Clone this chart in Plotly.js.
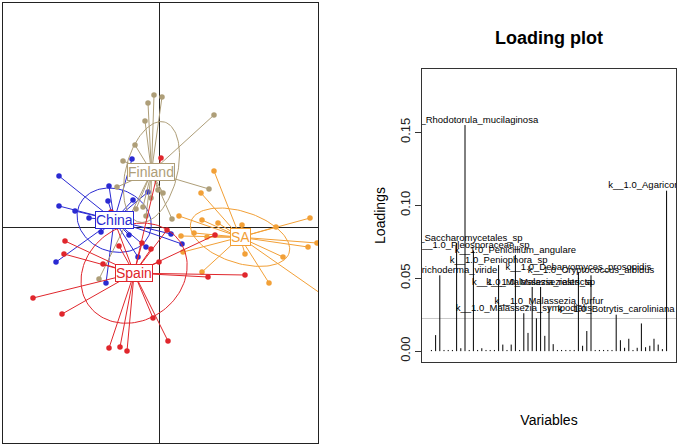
<!DOCTYPE html>
<html>
<head>
<meta charset="utf-8">
<script src="https://cdn.plot.ly/plotly-3.0.1.min.js"></script>
<style>
  html, body { margin: 0; padding: 0; background: #fff; }
  #chart { width: 680px; height: 446px; }
</style>
</head>
<body>
<div id="chart"></div>
<script>
// ---- class scores (PCA axes 1 and 2) ----
const groupNames = ["Finland", "China", "Spain", "SA"];
const groupColors = ["#ae9e78", "#2a2ad2", "#e0262c", "#f2a037"];

const finlandX = [-0.05, 0.03, -0.11, -0.14, 0.55, -0.24, -0.36, -0.42, 0.50, 0.04, -0.01, -0.08, -0.16, -0.23, 0.13, -0.60, -0.13];
const finlandY = [1.32, 1.30, 1.24, 1.06, 1.12, 0.82, 0.66, 0.40, 0.38, 0.34, 0.37, 0.29, 0.20, 0.18, 0.08, -0.52, 0.11];

const chinaX = [-1.00, -0.50, -0.51, -0.26, -0.27, -1.00, -0.84, -0.70, -0.58, -1.03, -0.53, -0.30, -0.21, -0.13, 0.12, 0.23, -0.11];
const chinaY = [0.51, 0.41, 0.26, 0.27, 0.68, 0.21, 0.16, 0.09, -0.05, -0.35, -0.56, -0.08, -0.30, -0.20, -0.07, -0.17, 0.35];

const spainX = [-0.94, -0.95, -0.56, -1.26, -0.97, -0.50, -0.39, -0.32, 0.09, -0.06, 0.00, 0.49, 0.86, 0.56, 0.08, -0.08, -0.17, -0.40, -0.48, 0.02];
const spainY = [-0.14, -0.27, -0.37, -0.71, -0.87, -1.21, -1.20, -1.24, -1.14, -0.91, -0.35, -0.50, -0.48, -0.08, -0.03, -0.22, -0.16, -0.19, 0.15, 0.69];

const saX = [0.55, 0.42, 0.20, 0.43, 0.59, 0.35, 0.22, 0.48, 0.83, 1.17, 1.51, 1.58, 1.49, 1.24, 0.86, 0.24, 0.43, 1.10, 1.71];
const saY = [0.56, 0.34, 0.11, 0.07, 0.04, -0.06, -0.09, -0.10, 0.02, 0.00, 0.09, -0.16, -0.20, -0.30, -0.27, -0.25, -0.45, -0.56, -0.73];

const groupXs = [finlandX, chinaX, spainX, saX];
const groupYs = [finlandY, chinaY, spainY, saY];

// ---- loadings ----
const loadings = [
  0.0008, 0.011, 0.052, 0.0008, 0.0008, 0.0008, 0.074, 0.002, 0.155, 0.0008,
  0.069, 0.0008, 0.002, 0.0008, 0.0008, 0.0008, 0.059, 0.0045, 0.0008, 0.0045,
  0.066, 0.0008, 0.026, 0.0125, 0.044, 0.0225, 0.044, 0.0105, 0.031, 0.0048,
  0.0008, 0.0008, 0.0008, 0.0008, 0.0008, 0.054, 0.0037, 0.0138, 0.052, 0.0008,
  0.0008, 0.0008, 0.0008, 0.0008, 0.025, 0.0075, 0.0023, 0.0085, 0.0008, 0.0023,
  0.019, 0.0027, 0.0037, 0.0085, 0.0045, 0.0014, 0.110
];
const labelIndex = [2, 6, 8, 10, 16, 20, 22, 24, 26, 28, 35, 38, 44, 56];
const labelNames = [
  "k__1.0_Trichoderma_viride",
  "k__1.0_Saccharomycetales_sp",
  "k__1.0_Rhodotorula_mucilaginosa",
  "k__1.0_Pleosporaceae_sp",
  "k__1.0_Peniophora_sp",
  "k__1.0_Penicillium_angulare",
  "k__1.0_Malassezia_sympodialis",
  "k__1.0_Malassezia_restricta",
  "k__1.0_Malasseziales_sp",
  "k__1.0_Malassezia_furfur",
  "k__1.0_Debaryomyces_prosopidis",
  "k__1.0_Cryptococcus_albidus",
  "k__1.0_Botrytis_caroliniana",
  "k__1.0_Agaricomycetes_sp"
];
const loadingThreshold = 0.0224;
const yTicks = [0, 0.05, 0.10, 0.15];

const FONT = "Liberation Sans, Arial, Helvetica, sans-serif";

function mean(arr) {
  return arr.reduce((s, v) => s + v, 0) / arr.length;
}

function groupStats(xs, ys) {
  const mx = mean(xs);
  const my = mean(ys);
  const vx = mean(xs.map(v => (v - mx) * (v - mx)));
  const vy = mean(ys.map(v => (v - my) * (v - my)));
  const cxy = mean(xs.map((v, i) => (v - mx) * (ys[i] - my)));
  return { mx, my, vx, vy, cxy };
}

// 1-sd ellipse from the group covariance
function ellipsePath(st) {
  const half = (st.vx + st.vy) / 2;
  const root = Math.sqrt(((st.vx - st.vy) / 2) ** 2 + st.cxy ** 2);
  const l1 = half + root;
  const l2 = Math.max(half - root, 0);
  const theta = 0.5 * Math.atan2(2 * st.cxy, st.vx - st.vy);
  const a = Math.sqrt(l1);
  const b = Math.sqrt(l2);
  const ex = [];
  const ey = [];
  for (let k = 0; k <= 120; k++) {
    const t = (k / 120) * 2 * Math.PI;
    ex.push(st.mx + a * Math.cos(t) * Math.cos(theta) - b * Math.sin(t) * Math.sin(theta));
    ey.push(st.my + a * Math.cos(t) * Math.sin(theta) + b * Math.sin(t) * Math.cos(theta));
  }
  return { ex, ey };
}

function buildClassTraces() {
  const traces = [];
  const annotations = [];
  const order = [1, 0, 3, 2];
  order.forEach(g => {
    const xs = groupXs[g];
    const ys = groupYs[g];
    const st = groupStats(xs, ys);
    const color = groupColors[g];
    const sx = [];
    const sy = [];
    xs.forEach((x, i) => {
      sx.push(st.mx, x, null);
      sy.push(st.my, ys[i], null);
    });
    traces.push({
      type: "scatter", mode: "lines", x: sx, y: sy,
      line: { color, width: 1 }, hoverinfo: "skip", xaxis: "x", yaxis: "y"
    });
    const el = ellipsePath(st);
    traces.push({
      type: "scatter", mode: "lines", x: el.ex, y: el.ey,
      line: { color, width: 1 }, hoverinfo: "skip", xaxis: "x", yaxis: "y"
    });
    traces.push({
      type: "scatter", mode: "markers", x: xs, y: ys,
      marker: { color, size: 5.5 }, hoverinfo: "skip", xaxis: "x", yaxis: "y"
    });
    annotations.push({
      x: st.mx, y: st.my, xref: "x", yref: "y", text: groupNames[g],
      showarrow: false, font: { family: FONT, size: 14, color },
      bgcolor: "#ffffff", bordercolor: color, borderwidth: 1, borderpad: 0
    });
  });
  return { traces, annotations };
}

function buildLoadingTraces() {
  const idx = loadings.map((_, i) => i + 1);
  const bx = [];
  const by = [];
  idx.forEach((x, i) => {
    bx.push(x, x, null);
    by.push(0, loadings[i], null);
  });
  return [
    {
      type: "scatter", mode: "lines", x: bx, y: by,
      line: { color: "#000", width: 1 }, hoverinfo: "skip", xaxis: "x2", yaxis: "y2"
    },
    {
      type: "scatter", mode: "text",
      x: labelIndex.map(i => i + 1),
      y: labelIndex.map(i => loadings[i]),
      text: labelNames,
      textposition: "top center",
      textfont: { family: FONT, size: 9.5, color: "#000" },
      cliponaxis: true, hoverinfo: "skip", xaxis: "x2", yaxis: "y2"
    }
  ];
}

function initChart() {
  const cls = buildClassTraces();
  const data = [...cls.traces, ...buildLoadingTraces()];
  const W = 680, H = 446;

  const layout = {
    width: W, height: H,
    margin: { l: 0, r: 0, t: 0, b: 0 },
    paper_bgcolor: "#fff",
    plot_bgcolor: "#fff",
    showlegend: false,
    font: { family: FONT, color: "#000" },
    xaxis: {
      domain: [3 / W, 318 / W], range: [-1.56, 1.59],
      showgrid: false, showticklabels: false, ticks: "",
      zeroline: true, zerolinecolor: "#222", zerolinewidth: 1,
      showline: true, mirror: true, linecolor: "#222", linewidth: 1
    },
    yaxis: {
      domain: [(H - 443) / H, (H - 3) / H], range: [-2.16, 2.24],
      showgrid: false, showticklabels: false, ticks: "",
      zeroline: true, zerolinecolor: "#222", zerolinewidth: 1,
      showline: true, mirror: true, linecolor: "#222", linewidth: 1
    },
    xaxis2: {
      domain: [422 / W, 676 / W], range: [-1.24, 59.24], anchor: "y2",
      showgrid: false, zeroline: false, showticklabels: false, ticks: "",
      showline: true, mirror: true, linecolor: "#333", linewidth: 1,
      title: { text: "Variables", font: { size: 14, color: "#000" }, standoff: 53 }
    },
    yaxis2: {
      domain: [(H - 362) / H, (H - 69) / H], range: [-0.00744, 0.19344], anchor: "x2",
      showgrid: false, zeroline: false,
      tickmode: "array", tickvals: yTicks, ticktext: yTicks.map(v => v.toFixed(2)),
      ticks: "outside", ticklen: 6, tickcolor: "#333", tickangle: -90,
      tickfont: { size: 13, color: "#222" },
      showline: true, mirror: true, linecolor: "#333", linewidth: 1,
      title: { text: "Loadings", font: { size: 14, color: "#000" }, standoff: 8 }
    },
    shapes: [
      {
        type: "line", xref: "x2 domain", yref: "y2", x0: 0, x1: 1,
        y0: loadingThreshold, y1: loadingThreshold,
        line: { color: "#c8c8c8", width: 1 }, layer: "below"
      }
    ],
    annotations: [
      ...cls.annotations,
      {
        text: "<b>Loading plot</b>", xref: "paper", yref: "paper",
        x: 549 / W, y: (H - 38) / H, xanchor: "center", yanchor: "middle",
        showarrow: false, font: { size: 18, color: "#000" }
      }
    ]
  };

  Plotly.newPlot("chart", data, layout, { displayModeBar: false, staticPlot: true });
}

document.addEventListener("DOMContentLoaded", initChart);
</script>
</body>
</html>
